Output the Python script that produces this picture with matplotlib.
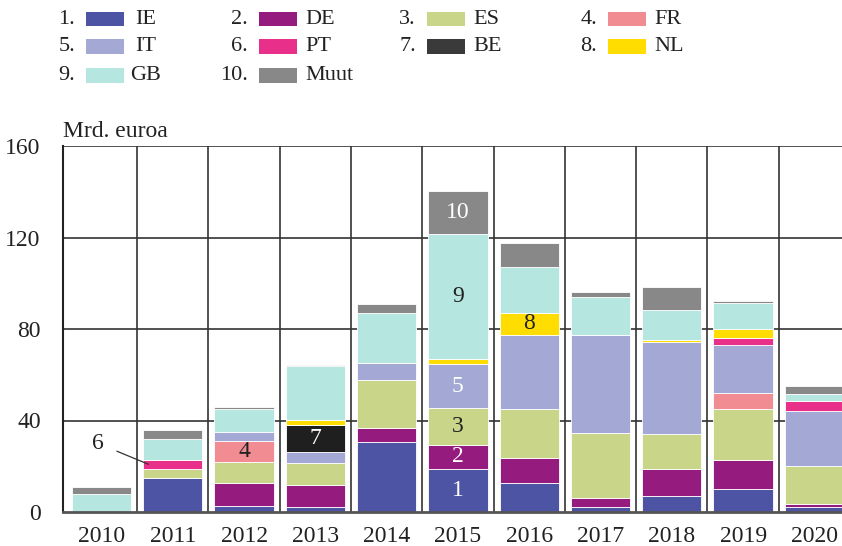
import numpy as np
import matplotlib.pyplot as plt
from matplotlib.patches import Rectangle

plt.rcParams["font.family"] = ["Liberation Serif", "DejaVu Serif"]
plt.rcParams["font.size"] = 16

years = ["2010", "2011", "2012", "2013", "2014", "2015", "2016", "2017", "2018", "2019", "2020"]
series = ["IE", "DE", "ES", "FR", "IT", "PT", "BE", "NL", "GB", "Muut"]
colors = ["#4e54a4", "#951b7e", "#c9d68a", "#f08c92", "#a3a8d4",
          "#e8308a", "#1f1f1f", "#ffdd00", "#b6e6e0", "#888888"]
legend_colors = colors[:6] + ["#3a3a3a"] + colors[7:]

# mrd. euroa
IE   = [0.0, 14.9, 2.8, 2.0, 30.5, 18.9, 12.5, 2.3, 6.8, 9.9, 2.2]
DE   = [0.0, 0.0, 10.0, 9.9, 6.1, 10.5, 11.0, 4.0, 12.0, 13.0, 1.4]
ES   = [0.0, 3.9, 9.2, 9.5, 21.1, 16.1, 21.5, 28.3, 15.2, 22.1, 16.5]
FR   = [0.0, 0.0, 8.9, 0.0, 0.0, 0.0, 0.0, 0.0, 0.0, 7.0, 0.0]
IT   = [0.0, 0.0, 3.9, 5.0, 7.3, 19.1, 32.5, 42.6, 40.2, 21.0, 23.9]
PT   = [0.0, 4.1, 0.0, 0.0, 0.0, 0.0, 0.0, 0.0, 0.0, 3.1, 4.4]
BE   = [0.0, 0.0, 0.0, 11.6, 0.0, 0.0, 0.0, 0.0, 0.0, 0.0, 0.0]
NL   = [0.0, 0.0, 0.0, 2.1, 0.0, 2.3, 9.6, 0.0, 1.1, 3.9, 0.0]
GB   = [7.8, 9.0, 10.4, 23.6, 21.9, 54.5, 20.1, 17.0, 12.9, 11.2, 3.3]
MUUT = [3.0, 4.1, 0.8, 0.6, 3.9, 18.9, 10.3, 2.1, 10.0, 1.0, 3.4]

data = [IE, DE, ES, FR, IT, PT, BE, NL, GB, MUUT]

# number labels inside bars: (year index, series index, text colour)
labels = [(2, 3, "#222222"), (3, 6, "white"), (5, 0, "white"), (5, 1, "white"),
          (5, 2, "#222222"), (5, 4, "white"), (5, 8, "#222222"), (5, 9, "white"),
          (6, 7, "#222222")]

fig = plt.figure(figsize=(8.42, 5.46), dpi=100)
ax = fig.add_axes([63 / 842, 34 / 546, 787 / 842, 366 / 546])

x = np.arange(len(years))
bottom = np.zeros(len(years))
for name, vals, col in zip(series, data, colors):
    vals = np.array(vals)
    ax.bar(x, vals, width=0.83, bottom=bottom, color=col,
           edgecolor="white", linewidth=0.6, zorder=3)
    bottom += vals

# cumulative bottoms for placing labels
cum = np.vstack([np.zeros(len(years)), np.cumsum(np.array(data), axis=0)])
for yi, si, tc in labels:
    mid = (cum[si, yi] + cum[si + 1, yi]) / 2
    ax.text(x[yi], mid, str(si + 1), ha="center", va="center",
            color=tc, fontsize=17, zorder=4)

# "6" callout for 2011 PT
pt_mid = (cum[5, 1] + cum[6, 1]) / 2
ax.annotate("6", xy=(0.66, pt_mid), xytext=(-0.05, 30),
            ha="center", va="center", color="#222222", fontsize=17,
            arrowprops=dict(arrowstyle="-", color="#333333", lw=0.9,
                            shrinkA=8, shrinkB=0))

ax.set_xlim(-0.54, 10.5)
ax.set_ylim(0, 160)
ax.set_yticks([0, 40, 80, 120, 160])
ax.set_xticks(x)
ax.set_xticklabels(years)
ax.tick_params(length=0, pad=10, labelsize=17, colors="#222222")
ax.tick_params(axis="y", pad=16)

for yv in [40, 80, 120, 160]:
    ax.axhline(yv, color="#333333", lw=1.2, zorder=1)
for k in range(len(years) - 1):
    ax.axvline(k + 0.5, color="#333333", lw=1.2, zorder=1)

for s in ["top", "right"]:
    ax.spines[s].set_visible(False)
ax.spines["left"].set_color("#222222")
ax.spines["left"].set_linewidth(1.5)
ax.spines["bottom"].set_color("#555555")
ax.spines["bottom"].set_linewidth(2)
ax.spines["bottom"].set_zorder(5)

ax.text(0, 1.012, "Mrd. euroa", transform=ax.transAxes, ha="left", va="bottom",
        fontsize=17, color="#222222")

# legend drawn by hand: number, swatch, name
patch_x = [86, 259, 427, 608]
row_y = [19, 46.5, 75.5]
for i, (name, col) in enumerate(zip(series, legend_colors)):
    c = i % 4
    px = patch_x[c]
    cy = row_y[i // 4]
    fig.text((px - 11) / 842, 1 - cy / 546, f"{i + 1}.", ha="right", va="center",
             fontsize=16, color="#222222")
    fig.patches.append(Rectangle((px / 842, 1 - (cy + 7) / 546), 38 / 842, 14 / 546,
                                 transform=fig.transFigure, facecolor=col,
                                 edgecolor="none"))
    if c == 0:
        fig.text((px + 60) / 842, 1 - cy / 546, name, ha="center", va="center",
                 fontsize=16, color="#222222")
    else:
        fig.text((px + 46) / 842, 1 - cy / 546, name, ha="left", va="center",
                 fontsize=16, color="#222222")

fig.savefig("out.png", dpi=100)
